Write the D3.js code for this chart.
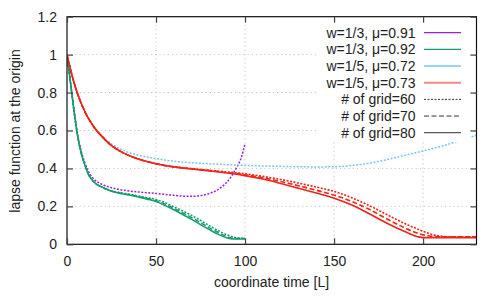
<!DOCTYPE html>
<html>
<head>
<meta charset="utf-8">
<script src="https://cdn.jsdelivr.net/npm/d3@7"></script>
<style>
  body { margin: 0; background: #fff; }
  text { font-family: "Liberation Sans", Arial, sans-serif; font-size: 14px; fill: #222; }
</style>
</head>
<body>
<div id="chart"></div>
<script>
// tick labels
const xTicks = [0, 50, 100, 150, 200];
const yTicks = [0, 0.2, 0.4, 0.6, 0.8, 1, 1.2];

// w=1/3, mu=0.91 (grid 60)
const purpleT = [0, 2, 4, 6, 8, 10, 12, 15, 20, 25, 30, 40, 50, 60, 65, 70, 75, 80, 85, 90, 95, 98, 100];
const purpleV = [1.0, 0.85, 0.70, 0.575, 0.49, 0.43, 0.385, 0.345, 0.315, 0.298, 0.288, 0.276, 0.268, 0.258, 0.254, 0.253, 0.257, 0.268, 0.29, 0.33, 0.40, 0.46, 0.53];

// w=1/3, mu=0.92 (grid 60 / 70 / 80)
const greenT = [0, 2, 4, 6, 8, 10, 12, 15, 20, 25, 30, 35, 40, 45, 50, 55, 60, 65, 70, 75, 80, 85, 90, 93, 95, 100];
const green60 = [1.0, 0.85, 0.70, 0.57, 0.48, 0.42, 0.37, 0.33, 0.30, 0.282, 0.272, 0.264, 0.255, 0.246, 0.236, 0.22, 0.198, 0.176, 0.152, 0.126, 0.098, 0.072, 0.05, 0.04, 0.035, 0.032];
const green70 = [1.0, 0.85, 0.70, 0.57, 0.48, 0.42, 0.37, 0.33, 0.30, 0.281, 0.27, 0.262, 0.252, 0.242, 0.23, 0.212, 0.19, 0.166, 0.141, 0.114, 0.087, 0.062, 0.04, 0.032, 0.03, 0.03];
const green80 = [1.0, 0.85, 0.70, 0.57, 0.48, 0.42, 0.37, 0.33, 0.30, 0.28, 0.268, 0.26, 0.249, 0.238, 0.225, 0.205, 0.182, 0.157, 0.131, 0.104, 0.077, 0.052, 0.033, 0.028, 0.028, 0.028];

// w=1/5, mu=0.72 (grid 60)
const blueT = [0, 2, 5, 10, 15, 20, 25, 30, 40, 50, 60, 70, 80, 90, 100, 120, 140, 150, 160, 170, 180, 190, 200, 210, 220, 230];
const blueV = [1.0, 0.92, 0.82, 0.70, 0.62, 0.568, 0.53, 0.502, 0.47, 0.452, 0.438, 0.43, 0.425, 0.42, 0.416, 0.411, 0.408, 0.409, 0.415, 0.428, 0.447, 0.47, 0.492, 0.516, 0.545, 0.575];

// w=1/5, mu=0.73 (grid 60 / 70 / 80)
const redT = [0, 2, 5, 10, 15, 20, 25, 30, 40, 50, 60, 70, 80, 90, 100, 110, 120, 130, 140, 150, 160, 170, 180, 190, 197, 200, 205, 210, 215, 230];
const red60 = [1.0, 0.92, 0.82, 0.70, 0.62, 0.565, 0.52, 0.49, 0.45, 0.425, 0.409, 0.399, 0.39, 0.381, 0.372, 0.358, 0.342, 0.323, 0.302, 0.279, 0.245, 0.203, 0.155, 0.108, 0.08, 0.068, 0.052, 0.043, 0.04, 0.04];
const red70 = [1.0, 0.92, 0.82, 0.70, 0.62, 0.565, 0.52, 0.49, 0.45, 0.425, 0.408, 0.398, 0.389, 0.378, 0.367, 0.351, 0.331, 0.309, 0.285, 0.26, 0.226, 0.183, 0.132, 0.085, 0.058, 0.05, 0.042, 0.04, 0.04, 0.04];
const red80 = [1.0, 0.92, 0.82, 0.70, 0.62, 0.565, 0.52, 0.49, 0.45, 0.425, 0.408, 0.397, 0.387, 0.376, 0.362, 0.344, 0.321, 0.296, 0.27, 0.243, 0.207, 0.16, 0.11, 0.066, 0.04, 0.035, 0.035, 0.035, 0.035, 0.035];

const legendLabels = ["w=1/3, \u03bc=0.91", "w=1/3, \u03bc=0.92", "w=1/5, \u03bc=0.72", "w=1/5, \u03bc=0.73",
                      "# of grid=60", "# of grid=70", "# of grid=80"];

const width = 500, height = 299;
const margin = {left: 67, right: 23.5, top: 16.7, bottom: 54.7};

const colors = {purple: "#9a1fe0", green: "#159c6c", blue: "#78c6f0", red: "#ee2418", salmon: "#f08a80"};
const dash = {60: "2,1.5", 70: "5,2.5", 80: null};

const svg = d3.select("#chart").append("svg")
    .attr("width", width)
    .attr("height", height);

const x = d3.scaleLinear().domain([0, 230]).range([margin.left, width - margin.right]);
const y = d3.scaleLinear().domain([0, 1.2]).range([height - margin.bottom, margin.top]);

// grid
svg.append("g").selectAll("line")
    .data(xTicks.slice(1))
    .join("line")
    .attr("x1", d => x(d)).attr("x2", d => x(d))
    .attr("y1", y(0)).attr("y2", y(1.2))
    .attr("stroke", "#c4c4c4").attr("stroke-dasharray", "1.2,3");
svg.append("g").selectAll("line")
    .data(yTicks.slice(1, -1))
    .join("line")
    .attr("x1", x(0)).attr("x2", x(230))
    .attr("y1", d => y(d)).attr("y2", d => y(d))
    .attr("stroke", "#c4c4c4").attr("stroke-dasharray", "1.2,3");

// clip for curves
svg.append("clipPath").attr("id", "plotclip")
    .append("rect")
    .attr("x", x(0)).attr("y", y(1.2))
    .attr("width", x(230) - x(0)).attr("height", y(0) - y(1.2));

const line = d3.line()
    .x(d => x(d[0]))
    .y(d => y(d[1]))
    .curve(d3.curveMonotoneX);

const curves = [
    {t: purpleT, v: purpleV, color: colors.purple, grid: 60, w: 1.5},
    {t: greenT, v: green60, color: colors.green, grid: 60, w: 1.5},
    {t: blueT, v: blueV, color: colors.blue, grid: 60, w: 1.5},
    {t: redT, v: red60, color: colors.red, grid: 60, w: 1.6},
    {t: greenT, v: green70, color: colors.green, grid: 70, w: 1.5},
    {t: redT, v: red70, color: colors.red, grid: 70, w: 1.6},
    {t: greenT, v: green80, color: colors.green, grid: 80, w: 1.5},
    {t: redT, v: red80, color: colors.red, grid: 80, w: 1.6}
];

const plot = svg.append("g").attr("clip-path", "url(#plotclip)");
plot.selectAll("path")
    .data(curves)
    .join("path")
    .attr("d", c => line(c.t.map((t, i) => [t, c.v[i]])))
    .attr("fill", "none")
    .attr("stroke", c => c.color)
    .attr("stroke-width", c => c.w)
    .attr("stroke-dasharray", c => dash[c.grid]);

// legend (opaque box)
const legendX = 415.5, sampleX1 = 424, sampleX2 = 461, legendY0 = 32.7, legendDy = 16.67;
svg.append("rect")
    .attr("x", 317).attr("y", 24)
    .attr("width", 153).attr("height", 118)
    .attr("fill", "#fff");

const legendStyle = [
    {color: colors.purple, dash: null, w: 1.2},
    {color: colors.green, dash: null, w: 1.2},
    {color: colors.blue, dash: null, w: 1.5},
    {color: colors.salmon, dash: null, w: 2},
    {color: "#333", dash: dash[60], w: 1},
    {color: "#333", dash: dash[70], w: 1},
    {color: "#333", dash: null, w: 1}
];
const legend = svg.append("g");
legendLabels.forEach((label, i) => {
    const ly = legendY0 + i * legendDy;
    legend.append("text")
        .attr("x", legendX).attr("y", ly)
        .attr("dy", "0.36em")
        .attr("text-anchor", "end")
        .text(label);
    legend.append("line")
        .attr("x1", sampleX1).attr("x2", sampleX2)
        .attr("y1", ly).attr("y2", ly)
        .attr("stroke", legendStyle[i].color)
        .attr("stroke-width", legendStyle[i].w)
        .attr("stroke-dasharray", legendStyle[i].dash);
});

// frame
svg.append("rect")
    .attr("x", x(0)).attr("y", y(1.2))
    .attr("width", x(230) - x(0)).attr("height", y(0) - y(1.2))
    .attr("fill", "none").attr("stroke", "#111").attr("stroke-width", 1.2);

// axes, ticks on all four sides pointing inward
svg.append("g")
    .attr("transform", `translate(0,${y(0)})`)
    .call(d3.axisBottom(x).tickValues(xTicks).tickSize(-6).tickPadding(12))
    .call(g => g.select(".domain").remove());
svg.append("g")
    .attr("transform", `translate(0,${y(1.2)})`)
    .call(d3.axisTop(x).tickValues(xTicks).tickSize(-6).tickFormat(""))
    .call(g => g.select(".domain").remove());
svg.append("g")
    .attr("transform", `translate(${x(0)},0)`)
    .call(d3.axisLeft(y).tickValues(yTicks).tickSize(-6).tickPadding(10).tickFormat(d3.format("~g")))
    .call(g => g.select(".domain").remove());
svg.append("g")
    .attr("transform", `translate(${x(230)},0)`)
    .call(d3.axisRight(y).tickValues(yTicks).tickSize(-6).tickFormat(""))
    .call(g => g.select(".domain").remove());

svg.selectAll(".tick line").attr("stroke", "#444").attr("stroke-width", 1.2);
svg.selectAll(".tick text")
    .style("font-family", "'Liberation Sans', Arial, sans-serif")
    .style("font-size", "14px")
    .attr("fill", "#222");

// axis titles
svg.append("text")
    .attr("x", 271.5).attr("y", 287)
    .attr("text-anchor", "middle")
    .text("coordinate time [L]");
svg.append("text")
    .attr("transform", `translate(20,131) rotate(-90)`)
    .attr("text-anchor", "middle")
    .text("lapse function at the origin");
</script>
</body>
</html>
